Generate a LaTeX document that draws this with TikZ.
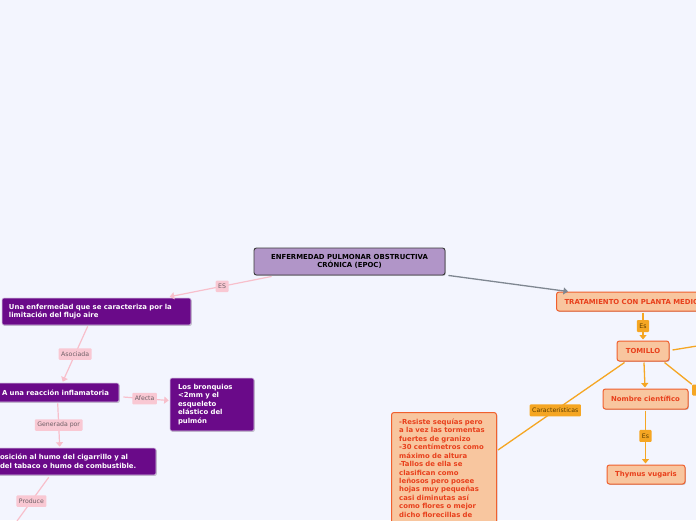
\documentclass[tikz,border=0pt]{standalone}
\usepackage{fontspec}
\setmainfont{DejaVu Sans}
\usetikzlibrary{arrows.meta,shadows,calc}
\definecolor{bg}{HTML}{F3F5FE}
\definecolor{mainfill}{HTML}{B195C8}
\definecolor{mainedge}{HTML}{3A3A3A}
\definecolor{purp}{HTML}{6A0A89}
\definecolor{purpedge}{HTML}{D8C8E4}
\definecolor{pinkline}{HTML}{F8BFCB}
\definecolor{pinkfill}{HTML}{F9C8D3}
\definecolor{pinktext}{HTML}{6E5F66}
\definecolor{grayline}{HTML}{7F8791}
\definecolor{peach}{HTML}{F8C69F}
\definecolor{peachedge}{HTML}{F0602E}
\definecolor{peachtext}{HTML}{E8401C}
\definecolor{orline}{HTML}{F5A623}
\definecolor{ortext}{HTML}{5B3C00}
\newcommand{\bfnt}{\fontsize{6.9}{8.6}\selectfont\bfseries\hyphenpenalty=10000\exhyphenpenalty=10000}
\newcommand{\lfnt}{\fontsize{6.2}{7}\selectfont}
\tikzset{
  shad/.style={drop shadow={shadow xshift=0.8pt, shadow yshift=-0.9pt, fill=black, opacity=0.22}},
  mainbox/.style={rectangle, rounded corners=2.5pt, fill=mainfill, draw=mainedge, line width=0.9pt, text=black, font=\bfnt, align=center, inner sep=0pt, shad},
  purplebox/.style={rectangle, rounded corners=2pt, fill=purp, draw=purpedge, line width=0.6pt, text=white, font=\bfnt, align=left, inner ysep=0pt, shad},
  peachbox/.style={rectangle, rounded corners=2.5pt, fill=peach, draw=peachedge, line width=1pt, text=peachtext, font=\bfnt, inner ysep=0pt, shad},
  pinklab/.style={rectangle, rounded corners=1pt, fill=pinkfill, text=pinktext, font=\lfnt, inner xsep=2.5pt, inner ysep=0pt, minimum height=11.5},
  orlab/.style={rectangle, rounded corners=1pt, fill=orline, text=ortext, font=\lfnt, inner xsep=2.5pt, inner ysep=0pt, minimum height=12},
  pinkarrow/.style={draw=pinkline, line width=1.2pt},
  orarrow/.style={draw=orline, line width=1.3pt},
  grayarrow/.style={draw=grayline, line width=1.3pt},
  tip/.style={-{Triangle[width=7pt,length=4.5pt]}}
}
\begin{document}
\begin{tikzpicture}[x=1pt,y=-1pt]
\useasboundingbox (0,0) rectangle (696,520);
\clip (0,0) rectangle (696,520);
\fill[bg] (0,0) rectangle (696,520);

% boxes
\node[mainbox, minimum width=191, minimum height=27] (main) at (349.5,261.5) {ENFERMEDAD PULMONAR OBSTRUCTIVA\\CRÓNICA (EPOC)};
\node[purplebox, text width=175, inner xsep=7, minimum height=27] (una) at (96.5,311.5) {Una enfermedad que se caracteriza por la\\limitación del flujo aire};
\node[purplebox, text width=109, inner xsep=8, minimum height=19] (reac) at (56.5,392.5) {\mbox{A una reacción inflamatoria}};
\node[purplebox, text width=68, inner xsep=8, minimum height=53, font=\fontsize{6.9}{8.45}\selectfont\bfseries] (bronq) at (212,404.5) {Los bronquios\\<2mm y el\\esqueleto\\elástico del\\pulmón};
\node[purplebox, text width=136, inner xsep=20, minimum height=27] (expo) at (68,461.5) {\mbox{osición al humo del cigarrillo y al}\\\mbox{del tabaco o humo de combustible.}};

\node[peachbox, anchor=west, inner xsep=8, minimum height=19] (trat) at (556,301.5) {TRATAMIENTO CON PLANTA MEDICINAL};
\node[peachbox, minimum width=52, minimum height=20, inner xsep=0] (tom) at (643,351) {TOMILLO};
\node[peachbox, minimum width=85, minimum height=20, inner xsep=0] (nom) at (645.5,399) {Nombre científico};
\node[peachbox, minimum width=78, minimum height=19, inner xsep=0] (thy) at (646,474.5) {Thymus vugaris};
\node[peachbox, anchor=north west, minimum width=105, minimum height=160, inner xsep=0] (car) at (391,412) {};
\node[anchor=north west, inner sep=0pt, text width=95, align=left, text=peachtext, font=\fontsize{6.9}{8.45}\selectfont\bfseries] (cartext) at (399,418.6) {-Resiste sequías pero\\a la vez las tormentas\\fuertes de granizo\\-30 centímetros como\\máximo de altura\\-Tallos de ella se\\clasifican como\\leñosos pero posee\\hojas muy pequeñas\\casi diminutas así\\como flores o mejor\\dicho florecillas de};
\node[orlab, minimum width=26, minimum height=11] (rlab) at (705,390) {};

\coordinate (offb) at (17,521);
\coordinate (offr) at (700,345.5);

% connectors
\draw[pinkarrow, tip] ($(main.south west)+(18,1)$) -- node[pinklab, pos=0.485] (lES) {ES} ($(una.north west)+(168,-1)$);
\draw[grayarrow, tip] ($(main.south east)+(3,0)$) -- ($(trat.north west)+(12,0)$);
\draw[pinkarrow, tip] ($(una.south west)+(86,1)$) -- node[pinklab, pos=0.5] (lAso) {Asociada} ($(reac.north west)+(69,-1)$);
\draw[pinkarrow, tip] ($(reac.east)+(4,4.5)$) -- node[pinklab, pos=0.47] (lAfe) {Afecta} ($(bronq.west)+(-1,-4)$);
\draw[pinkarrow, tip] ($(reac.south west)+(64,1)$) -- node[pinklab, pos=0.5] (lGen) {Generada por} ($(expo.north west)+(80,-1)$);
\draw[pinkarrow] ($(expo.south west)+(69,2)$) -- node[pinklab, pos=0.545] (lPro) {Produce} (offb);

\draw[orarrow, tip] ($(trat.south west)+(87,1)$) -- node[orlab, pos=0.5] (lEs1) {Es} ($(tom.north)+(0,-1)$);
\draw[orarrow, tip] ($(tom.south)+(1,1)$) -- ($(nom.north)+(-0.5,-1)$);
\draw[orarrow] ($(tom.east)+(3,-1)$) -- (offr);
\draw[orarrow] ($(tom.south east)+(-5,1)$) -- (rlab.north west);
\draw[orarrow] ($(tom.south west)+(8,1)$) -- node[orlab, pos=0.547] (lCar) {Características} ($(car.north east)+(1,38)$);
\draw[orarrow, tip] ($(nom.south)+(0,1)$) -- node[orlab, pos=0.48] (lEs2) {Es} ($(thy.north)+(-0.5,-1)$);
\end{tikzpicture}
\end{document}
